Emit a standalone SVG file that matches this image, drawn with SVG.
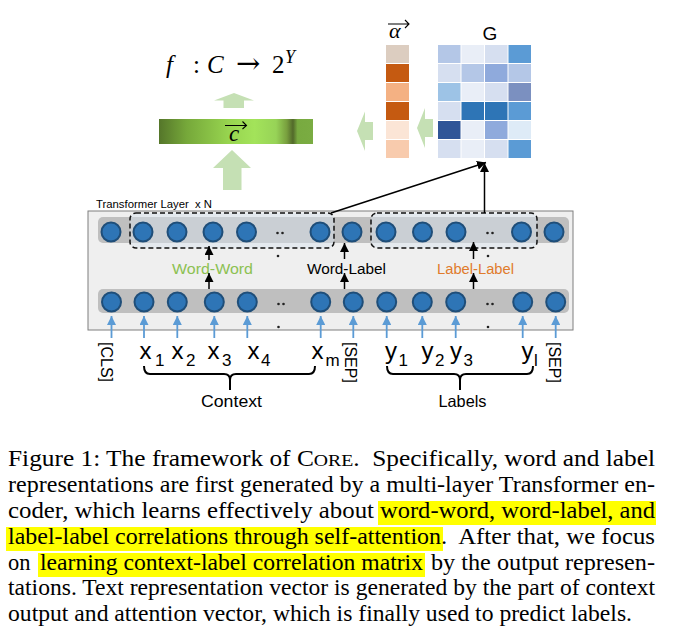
<svg xmlns="http://www.w3.org/2000/svg" width="684" height="640" viewBox="0 0 684 640">
<defs>
<style>
.node{fill:#2e75b6;stroke:#1f4e79;stroke-width:2}
.dot{fill:#222}
.band{fill:#bfbfbf}
.dash{fill:#d6e2ee;fill-opacity:0.45;stroke:#111;stroke-width:1.5;stroke-dasharray:5,3}
.blk{stroke:#000;stroke-width:1.5;fill:none}
.blu{stroke:#5b9bd5;stroke-width:1.8;fill:none}
.sans{font-family:"Liberation Sans",Arial,sans-serif}
.serif{font-family:"Liberation Serif","Times New Roman",serif}
.cap{font-family:"Liberation Serif","Times New Roman",serif;font-size:22.5px;fill:#000}
.hl{fill:#ffff00}
.garrow{fill:#c5e0b4}
.brace{stroke:#000;stroke-width:2;fill:none}
</style>
<marker id="ab" viewBox="0 0 10 10" refX="10" refY="5" markerWidth="6" markerHeight="6" orient="auto"><path d="M0,0 L10,5 L0,10 z" fill="#000"/></marker>
<marker id="au" viewBox="0 0 10 10" refX="10" refY="5" markerWidth="5" markerHeight="5" orient="auto"><path d="M0,0 L10,5 L0,10 z" fill="#5b9bd5"/></marker>
<linearGradient id="gbar" x1="0" y1="0" x2="1" y2="0">
<stop offset="0" stop-color="#55762a"/>
<stop offset="0.18" stop-color="#76a83a"/>
<stop offset="0.45" stop-color="#97d44f"/>
<stop offset="0.62" stop-color="#a3e35a"/>
<stop offset="0.76" stop-color="#97d357"/>
<stop offset="0.83" stop-color="#789f3e"/>
<stop offset="0.87" stop-color="#52692a"/>
<stop offset="0.9" stop-color="#78aa40"/>
<stop offset="1" stop-color="#7aac42"/>
</linearGradient>
</defs>
<rect width="684" height="640" fill="#fff"/>

<!-- formula -->
<g id="formula" class="serif" font-size="25">
<text x="166" y="73" font-style="italic">f</text>
<text x="193" y="73">:</text>
<text x="207" y="73" font-style="italic">C</text>
<text x="236" y="73" font-family="DejaVu Serif,serif" font-size="29">→</text>
<text x="272" y="73">2</text>
<text x="285" y="63" font-style="italic" font-size="18">Y</text>
</g>

<!-- green arrows -->
<g id="green-arrows">
<path class="garrow" d="M234,93 L254,100.5 L244,100.5 L244,108 L223.5,108 L223.5,100.5 L214,100.5 z"/>
<path class="garrow" d="M232,150 L251,168 L241.5,168 L241.5,190 L223,190 L223,168 L213,168 z"/>
<path class="garrow" d="M357,131 L365,111.5 L365,122 L373,122 L373,140 L365,140 L365,151 z"/>
<path class="garrow" d="M417,128 L425,108 L425,119 L433,119 L433,137 L425,137 L425,148 z"/>
</g>

<!-- c vector bar -->
<g id="c-vector">
<rect x="159" y="119" width="154" height="25" fill="url(#gbar)"/>
<text x="229" y="141" class="serif" font-size="23" font-style="italic">c</text>
<path d="M225,125.5 H246.5 M242.5,121.5 L246.5,125.5 L242.5,129" stroke="#000" stroke-width="1.1" fill="none"/>
</g>

<!-- alpha vector -->
<g id="alpha-vector">
<text x="389" y="38" class="serif" font-size="22" font-style="italic">α</text>
<path d="M388,24 H409 M405,20 L409,24 L405,28" stroke="#000" stroke-width="1.1" fill="none"/>
<rect x="386" y="45" width="23" height="18" fill="#dccdc0"/>
<rect x="386" y="64" width="23" height="18" fill="#c55a11"/>
<rect x="386" y="83" width="23" height="18" fill="#f4b183"/>
<rect x="386" y="102" width="23" height="18" fill="#c55a11"/>
<rect x="386" y="121" width="23" height="18" fill="#fbe5d6"/>
<rect x="386" y="140" width="23" height="18" fill="#f8cbad"/>
</g>

<!-- G matrix -->
<g id="G-matrix">
<text x="490" y="40" class="sans" font-size="19" text-anchor="middle">G</text>
<g>
<rect x="438" y="45" width="22.5" height="18" fill="#b4c7e7"/>
<rect x="461.5" y="45" width="22.5" height="18" fill="#e9eef7"/>
<rect x="485" y="45" width="22.5" height="18" fill="#d6dff0"/>
<rect x="508.5" y="45" width="22.5" height="18" fill="#5b9bd5"/>
<rect x="438" y="64" width="22.5" height="18" fill="#d6dff0"/>
<rect x="461.5" y="64" width="22.5" height="18" fill="#b4c7e7"/>
<rect x="485" y="64" width="22.5" height="18" fill="#8faadc"/>
<rect x="508.5" y="64" width="22.5" height="18" fill="#b4c7e7"/>
<rect x="438" y="83" width="22.5" height="18" fill="#9dc3e6"/>
<rect x="461.5" y="83" width="22.5" height="18" fill="#e9eef7"/>
<rect x="485" y="83" width="22.5" height="18" fill="#d6dff0"/>
<rect x="508.5" y="83" width="22.5" height="18" fill="#7b90c0"/>
<rect x="438" y="102" width="22.5" height="18" fill="#d6dff0"/>
<rect x="461.5" y="102" width="22.5" height="18" fill="#2e75b6"/>
<rect x="485" y="102" width="22.5" height="18" fill="#2e75b6"/>
<rect x="508.5" y="102" width="22.5" height="18" fill="#5b9bd5"/>
<rect x="438" y="121" width="22.5" height="18" fill="#2f5597"/>
<rect x="461.5" y="121" width="22.5" height="18" fill="#e9eef7"/>
<rect x="485" y="121" width="22.5" height="18" fill="#8faadc"/>
<rect x="508.5" y="121" width="22.5" height="18" fill="#deebf7"/>
<rect x="438" y="140" width="22.5" height="18" fill="#d6dff0"/>
<rect x="461.5" y="140" width="22.5" height="18" fill="#e9eef7"/>
<rect x="485" y="140" width="22.5" height="18" fill="#d6dff0"/>
<rect x="508.5" y="140" width="22.5" height="18" fill="#5b9bd5"/>
</g>
</g>

<!-- transformer box -->
<g id="transformer">
<text x="96" y="207.5" class="sans" font-size="11.3" textLength="116" lengthAdjust="spacingAndGlyphs" xml:space="preserve">Transformer Layer  x N</text>
<rect x="88" y="211" width="485" height="119" fill="#efefef" stroke="#7f7f7f" stroke-width="1"/>
<rect class="band" x="98" y="217" width="471" height="26" rx="5"/>
<rect class="band" x="98" y="289" width="471" height="24" rx="5"/>
</g>

<g id="attention-groups">
<rect id="word-group" class="dash" x="130" y="213" width="204" height="35" rx="6"/>
<rect id="label-group" class="dash" x="371" y="213" width="166" height="35" rx="6"/>
</g>

<g id="top-nodes">
<circle class="node" cx="111" cy="232" r="9.5"/>
<circle class="node" cx="143" cy="232" r="9.5"/>
<circle class="node" cx="177" cy="232" r="9.5"/>
<circle class="node" cx="213" cy="232" r="9.5"/>
<circle class="node" cx="246.5" cy="232" r="9.5"/>
<circle class="node" cx="320" cy="232" r="9.5"/>
<circle class="node" cx="352" cy="232" r="9.5"/>
<circle class="node" cx="386" cy="232" r="9.5"/>
<circle class="node" cx="422.5" cy="232" r="9.5"/>
<circle class="node" cx="456" cy="232" r="9.5"/>
<circle class="node" cx="521.5" cy="232" r="9.5"/>
<circle class="node" cx="554" cy="232" r="9.5"/>
<circle class="dot" cx="277.5" cy="233" r="1.3"/>
<circle class="dot" cx="282.5" cy="233" r="1.3"/>
<circle class="dot" cx="278" cy="256" r="1.3"/>
<circle class="dot" cx="487.5" cy="233" r="1.3"/>
<circle class="dot" cx="492.5" cy="233" r="1.3"/>
<circle class="dot" cx="488" cy="256" r="1.3"/>
</g>

<g id="bottom-nodes">
<circle class="node" cx="111.5" cy="302" r="9.5"/>
<circle class="node" cx="144" cy="302" r="9.5"/>
<circle class="node" cx="177.3" cy="302" r="9.5"/>
<circle class="node" cx="214.3" cy="302" r="9.5"/>
<circle class="node" cx="247.3" cy="302" r="9.5"/>
<circle class="node" cx="320.7" cy="302" r="9.5"/>
<circle class="node" cx="353.3" cy="302" r="9.5"/>
<circle class="node" cx="386.7" cy="302" r="9.5"/>
<circle class="node" cx="422.3" cy="302" r="9.5"/>
<circle class="node" cx="455.7" cy="302" r="9.5"/>
<circle class="node" cx="522.7" cy="302" r="9.5"/>
<circle class="node" cx="555.7" cy="302" r="9.5"/>
<circle class="dot" cx="278.5" cy="304" r="1.3"/>
<circle class="dot" cx="283.5" cy="304" r="1.3"/>
<circle class="dot" cx="278.5" cy="327" r="1.3"/>
<circle class="dot" cx="487.5" cy="304" r="1.3"/>
<circle class="dot" cx="492.5" cy="304" r="1.3"/>
<circle class="dot" cx="488" cy="327" r="1.3"/>
</g>

<g id="relation-labels" class="sans" font-size="15.5">
<text x="172" y="274" fill="#8cc152" textLength="81" lengthAdjust="spacingAndGlyphs">Word-Word</text>
<text x="307" y="274" fill="#000" textLength="79" lengthAdjust="spacingAndGlyphs">Word-Label</text>
<text x="437" y="274" fill="#e07b2c" textLength="77" lengthAdjust="spacingAndGlyphs">Label-Label</text>
</g>

<g id="connectors">
<line class="blk" x1="209" y1="289" x2="209" y2="273" marker-end="url(#ab)"/>
<line class="blk" x1="209" y1="260" x2="209" y2="246" marker-end="url(#ab)"/>
<line class="blk" x1="344.5" y1="289" x2="344.5" y2="273" marker-end="url(#ab)"/>
<line class="blk" x1="344.5" y1="259" x2="344.5" y2="243" marker-end="url(#ab)"/>
<line class="blk" x1="473.5" y1="289" x2="473.5" y2="273" marker-end="url(#ab)"/>
<line class="blk" x1="473.5" y1="259" x2="473.5" y2="242" marker-end="url(#ab)"/>
<line class="blk" x1="331" y1="213" x2="486" y2="162.5" marker-end="url(#ab)"/>
<line class="blk" x1="484.5" y1="213" x2="484.5" y2="163" marker-end="url(#ab)"/>
<line class="blu" x1="111.5" y1="338" x2="111.5" y2="316" marker-end="url(#au)"/>
<line class="blu" x1="144" y1="338" x2="144" y2="316" marker-end="url(#au)"/>
<line class="blu" x1="177.3" y1="338" x2="177.3" y2="316" marker-end="url(#au)"/>
<line class="blu" x1="214.3" y1="338" x2="214.3" y2="316" marker-end="url(#au)"/>
<line class="blu" x1="247.3" y1="338" x2="247.3" y2="316" marker-end="url(#au)"/>
<line class="blu" x1="320.7" y1="338" x2="320.7" y2="316" marker-end="url(#au)"/>
<line class="blu" x1="353.3" y1="338" x2="353.3" y2="316" marker-end="url(#au)"/>
<line class="blu" x1="386.7" y1="338" x2="386.7" y2="316" marker-end="url(#au)"/>
<line class="blu" x1="422.3" y1="338" x2="422.3" y2="316" marker-end="url(#au)"/>
<line class="blu" x1="455.7" y1="338" x2="455.7" y2="316" marker-end="url(#au)"/>
<line class="blu" x1="522.7" y1="338" x2="522.7" y2="316" marker-end="url(#au)"/>
<line class="blu" x1="555.7" y1="338" x2="555.7" y2="316" marker-end="url(#au)"/>
</g>

<g id="inputs" class="sans">
<text transform="translate(100.5,342) rotate(90)" font-size="16">[CLS]</text>
<text transform="translate(345,342) rotate(90)" font-size="16">[SEP]</text>
<text transform="translate(549,342) rotate(90)" font-size="16">[SEP]</text>
<text x="139.5" y="359" font-size="24">x</text><text x="155" y="366" font-size="17">1</text>
<text x="171.5" y="359" font-size="24">x</text><text x="186" y="366" font-size="17">2</text>
<text x="207.5" y="359" font-size="24">x</text><text x="222" y="366" font-size="17">3</text>
<text x="247.5" y="359" font-size="24">x</text><text x="261" y="366" font-size="17">4</text>
<text x="311.5" y="359" font-size="24">x</text><text x="325.5" y="366" font-size="17">m</text>
<text x="385" y="359" font-size="24">y</text><text x="398.5" y="366" font-size="17">1</text>
<text x="421.5" y="359" font-size="24">y</text><text x="435" y="366" font-size="17">2</text>
<text x="450" y="359" font-size="24">y</text><text x="463.5" y="366" font-size="17">3</text>
<text x="521.5" y="359" font-size="24">y</text><text x="534" y="366" font-size="17">l</text>
</g>

<g id="groups">
<path class="brace" d="M144,366 Q144,374 150,374 H224 Q230,374 230,380 V390 M230,380 Q230,374 236,374 H309 Q315,374 315,366"/>
<path class="brace" d="M387,366 Q387,374 393,374 H454 Q460,374 460,380 V390 M460,380 Q460,374 466,374 H527 Q533,374 533,366"/>
<text x="231.5" y="407" class="sans" font-size="16.5" text-anchor="middle" textLength="61" lengthAdjust="spacingAndGlyphs">Context</text>
<text x="462.5" y="407" class="sans" font-size="16.5" text-anchor="middle" textLength="48" lengthAdjust="spacingAndGlyphs">Labels</text>
</g>

<g id="caption">
<rect class="hl" x="378" y="501" width="278" height="24"/>
<rect class="hl" x="6" y="527" width="437" height="24"/>
<rect class="hl" x="38" y="553" width="387" height="24"/>
<text class="cap" x="8" y="466" textLength="647" lengthAdjust="spacingAndGlyphs" xml:space="preserve">Figure 1: The framework of C<tspan font-size="17.5">ORE</tspan>.  Specifically, word and label</text>
<text class="cap" x="8" y="492" textLength="647" lengthAdjust="spacingAndGlyphs">representations are first generated by a multi-layer Transformer en-</text>
<text class="cap" x="8" y="518" textLength="366" lengthAdjust="spacingAndGlyphs">coder, which learns effectively about</text>
<text class="cap" x="380" y="518" textLength="275" lengthAdjust="spacingAndGlyphs">word-word, word-label, and</text>
<text class="cap" x="8" y="544" textLength="433" lengthAdjust="spacingAndGlyphs">label-label correlations through self-attention</text>
<text class="cap" x="441" y="544" textLength="214" lengthAdjust="spacingAndGlyphs" xml:space="preserve">.  After that, we focus</text>
<text class="cap" x="8" y="570">on</text>
<text class="cap" x="40" y="570" textLength="383" lengthAdjust="spacingAndGlyphs">learning context-label correlation matrix</text>
<text class="cap" x="431" y="570" textLength="224" lengthAdjust="spacingAndGlyphs">by the output represen-</text>
<text class="cap" x="8" y="595" textLength="647" lengthAdjust="spacingAndGlyphs">tations. Text representation vector is generated by the part of context</text>
<text class="cap" x="8" y="621" textLength="624" lengthAdjust="spacingAndGlyphs">output and attention vector, which is finally used to predict labels.</text>
</g>
</svg>
